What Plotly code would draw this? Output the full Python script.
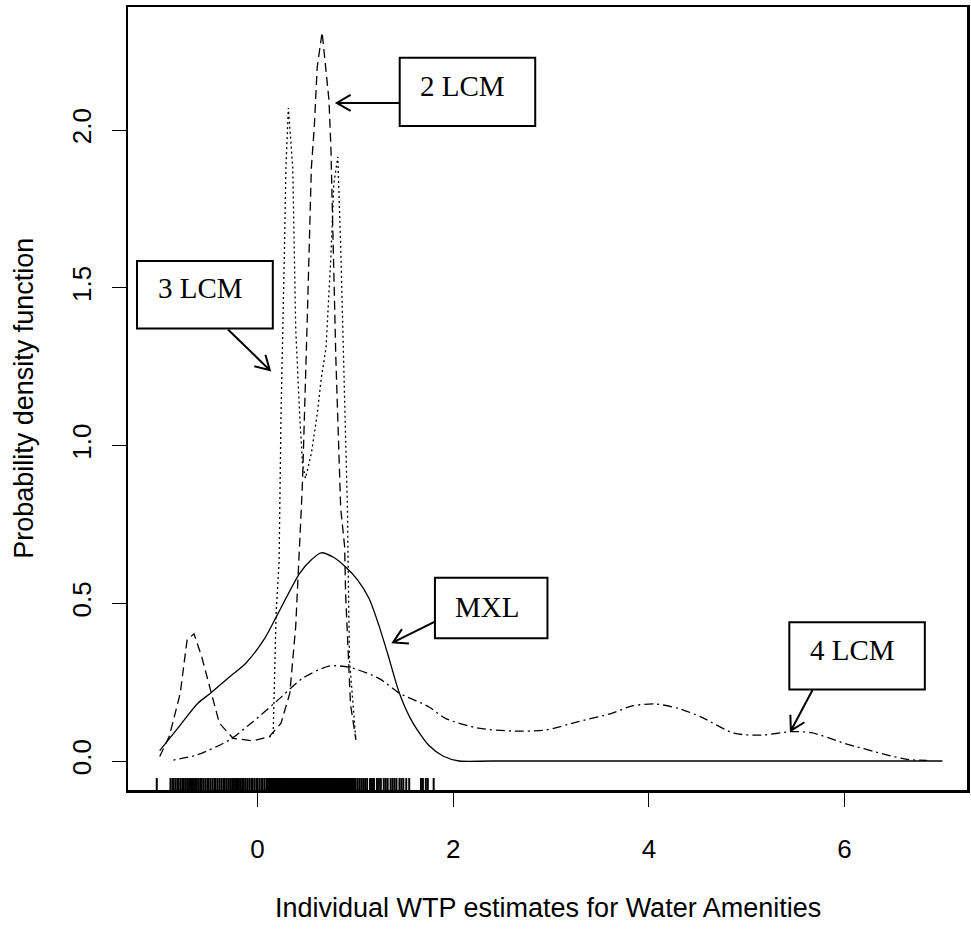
import math
import plotly.graph_objects as go

# ---------------- data ----------------
mxl_x = [-1.00, -0.80, -0.61, -0.48, -0.30, -0.12, 0.07, 0.21, 0.43, 0.55, 0.65, 0.78, 0.90,
         1.02, 1.14, 1.24, 1.33, 1.45, 1.58, 1.75, 1.90, 2.06, 2.40, 7.00]
mxl_y = [0.033, 0.110, 0.183, 0.215, 0.263, 0.310, 0.387, 0.468, 0.595, 0.638, 0.660, 0.645, 0.615,
         0.575, 0.515, 0.430, 0.340, 0.215, 0.125, 0.050, 0.015, 0.000, 0.000, 0.000]

lcm2_x = [-1.00, -0.90, -0.79, -0.72, -0.65, -0.57, -0.49, -0.39, -0.25, -0.05, 0.12, 0.24, 0.33,
          0.39, 0.445, 0.46, 0.51, 0.55, 0.58, 0.61, 0.66, 0.70, 0.73, 0.75, 0.77, 0.80, 0.85,
          0.89, 0.90, 0.95, 1.005]
lcm2_y = [0.014, 0.080, 0.215, 0.384, 0.403, 0.330, 0.236, 0.120, 0.072, 0.064, 0.077, 0.120, 0.215,
          0.426, 0.785, 0.890, 1.420, 1.880, 2.010, 2.200, 2.310, 2.180, 2.095, 1.940, 1.670, 1.280, 0.800,
          0.680, 0.530, 0.180, 0.067]

lcm3_x = [0.12, 0.16, 0.19, 0.22, 0.24, 0.26, 0.275, 0.29, 0.315, 0.36, 0.38, 0.39, 0.43, 0.46,
          0.49, 0.55, 0.61, 0.65, 0.70, 0.73, 0.75, 0.78, 0.82, 0.85, 0.89, 0.92, 0.925, 0.94, 1.005]
lcm3_y = [0.075, 0.088, 0.470, 0.630, 1.100, 1.470, 1.620, 1.880, 2.070, 1.880, 1.570, 1.370, 1.100, 0.940,
          0.896, 0.975, 1.100, 1.210, 1.310, 1.470, 1.600, 1.830, 1.915, 1.630, 1.155, 0.785, 0.637, 0.320, 0.067]

lcm4_x = [-0.86, -0.62, -0.285, -0.05, 0.19, 0.46, 0.73, 0.94, 1.24, 1.45, 1.75, 1.92, 2.26, 2.60,
          2.94, 3.28, 3.62, 3.82, 4.06, 4.30, 4.53, 4.87, 5.15, 5.45, 5.66, 6.00, 6.40, 6.64, 6.84]
lcm4_y = [0.003, 0.019, 0.067, 0.124, 0.188, 0.262, 0.301, 0.297, 0.262, 0.215, 0.172, 0.135, 0.104, 0.095,
          0.098, 0.125, 0.151, 0.174, 0.181, 0.167, 0.140, 0.088, 0.082, 0.093, 0.090, 0.056, 0.022, 0.005, 0.002]

rug_x = [-1.03,
         -0.89, -0.87, -0.86, -0.84, -0.82, -0.81, -0.79, -0.77, -0.76, -0.74, -0.72, -0.70, -0.69, -0.67,
         -0.65, -0.63, -0.62, -0.60, -0.58, -0.57, -0.55, -0.53, -0.51, -0.50, -0.48, -0.46, -0.44, -0.43,
         -0.41, -0.39, -0.37, -0.35, -0.34, -0.32, -0.30, -0.28, -0.26, -0.25, -0.23, -0.21, -0.19, -0.17,
         -0.15, -0.14, -0.12, -0.10, -0.08, -0.06, -0.05, -0.03, -0.01, 0.00, 0.02, 0.04, 0.05, 0.07,
         0.09, 0.10, 0.11, 0.12, 0.13, 0.14, 0.15, 0.16, 0.17, 0.18, 0.19, 0.20, 0.21, 0.22, 0.23, 0.24,
         0.25, 0.26, 0.27, 0.28, 0.29, 0.30, 0.31, 0.32, 0.33, 0.34, 0.35, 0.36, 0.37, 0.38, 0.39, 0.40,
         0.41, 0.42, 0.43, 0.44, 0.45, 0.46, 0.47, 0.48, 0.49, 0.50, 0.51, 0.52, 0.53, 0.54, 0.55, 0.56,
         0.57, 0.58, 0.59, 0.60, 0.61, 0.62, 0.63, 0.64, 0.65, 0.66, 0.67, 0.68, 0.69, 0.70, 0.71, 0.72,
         0.73, 0.74, 0.75, 0.76, 0.77, 0.78, 0.79, 0.80, 0.81, 0.82, 0.83, 0.84, 0.85, 0.86, 0.87, 0.88,
         0.89, 0.90, 0.91, 0.92, 0.93, 0.94, 0.95, 0.96, 0.97, 0.98, 0.99, 1.00,
         1.02, 1.04, 1.06, 1.08, 1.10, 1.12, 1.15, 1.17, 1.19, 1.22, 1.24, 1.26, 1.29, 1.31, 1.33, 1.36,
         1.38, 1.40, 1.42, 1.45, 1.47, 1.49, 1.52, 1.55,
         1.67, 1.69, 1.72, 1.74, 1.80]

x_ticks = [0, 2, 4, 6]
y_ticks = [0.0, 0.5, 1.0, 1.5, 2.0]
y_tick_text = ["0.0", "0.5", "1.0", "1.5", "2.0"]

# label boxes: text, box (x0, x1, y0, y1), text position, arrow tail, arrow head
labels = [
    ("2 LCM", (1.453, 2.838, 2.013, 2.229), (2.09, 2.14), (1.453, 2.086), (0.81, 2.086)),
    ("3 LCM", (-1.232, 0.156, 1.371, 1.585), (-0.586, 1.50), (-0.302, 1.368), (0.125, 1.239)),
    ("MXL", (1.813, 2.963, 0.389, 0.581), (2.35, 0.489), (1.813, 0.4415), (1.385, 0.376)),
    ("4 LCM", (5.435, 6.820, 0.227, 0.4396), (6.08, 0.352), (5.672, 0.225), (5.451, 0.096)),
]

# ---------------- layout constants ----------------
W, H = 971, 929
ML, MR, MT, MB = 128, 1, 7, 139
XR = [-1.324, 7.251]
YR = [-0.0919, 2.390]
SX = (W - ML - MR) / (XR[1] - XR[0])
SY = (H - MT - MB) / (YR[1] - YR[0])
RUG_Y0, RUG_Y1 = YR[0], -0.054

SANS = "Liberation Sans, Arial, sans-serif"
SERIF = "Liberation Serif, Times New Roman, serif"

fig = go.Figure()

def add_line(x, y, dash, shape="linear"):
    fig.add_trace(go.Scatter(x=x, y=y, mode="lines", showlegend=False, hoverinfo="skip",
                             line=dict(color="black", width=1.3, dash=dash, shape=shape,
                                       smoothing=0.7 if shape == "spline" else None)))

add_line(mxl_x, mxl_y, "solid", "spline")
add_line(lcm2_x, lcm2_y, "9px,5px")
add_line(lcm3_x, lcm3_y, "2px,3px")
add_line(lcm4_x, lcm4_y, "2px,4px,9px,4px", "spline")

rx, ry = [], []
for v in rug_x:
    rx += [v, v, None]
    ry += [RUG_Y0, RUG_Y1, None]
fig.add_trace(go.Scatter(x=rx, y=ry, mode="lines", showlegend=False, hoverinfo="skip",
                         line=dict(color="black", width=2)))

shapes = []
annotations = []
for text, (bx0, bx1, by0, by1), (tx, ty), (ax, ay), (hx, hy) in labels:
    shapes.append(dict(type="rect", xref="x", yref="y", x0=bx0, x1=bx1, y0=by0, y1=by1,
                       line=dict(color="black", width=2), fillcolor="white", layer="above"))
    annotations.append(dict(x=tx, y=ty, xref="x", yref="y", text=text, showarrow=False,
                            font=dict(family=SERIF, size=29, color="black"),
                            xanchor="center", yanchor="middle"))
    # arrow with open V head (computed in pixel space)
    ux, uy = (ax - hx) * SX, (ay - hy) * SY
    n = math.hypot(ux, uy)
    ux, uy = ux / n, uy / n
    L = 16
    pts = []
    for ang in (math.radians(30), math.radians(-30)):
        rx_ = ux * math.cos(ang) - uy * math.sin(ang)
        ry_ = ux * math.sin(ang) + uy * math.cos(ang)
        pts.append((hx + rx_ * L / SX, hy + ry_ * L / SY))
    path = (f"M {ax},{ay} L {hx},{hy} M {pts[0][0]},{pts[0][1]} L {hx},{hy} "
            f"L {pts[1][0]},{pts[1][1]}")
    shapes.append(dict(type="path", xref="x", yref="y", path=path,
                       line=dict(color="black", width=2), layer="above"))

annotations.append(dict(x=0.5, y=(MT + (H - MT - MB) - 908) / (H - MT - MB), xref="paper", yref="paper",
                        text="Individual WTP estimates for Water Amenities", showarrow=False,
                        font=dict(family=SANS, size=27, color="black"),
                        xanchor="center", yanchor="middle"))
annotations.append(dict(x=(23 - ML) / (W - ML - MR), y=0.5, xref="paper", yref="paper",
                        text="Probability density function", showarrow=False, textangle=-90,
                        font=dict(family=SANS, size=27, color="black"),
                        xanchor="center", yanchor="middle"))

axis_common = dict(showgrid=False, zeroline=False, showline=True, linecolor="black", linewidth=2.5,
                   mirror=True, ticks="outside", ticklen=14, tickwidth=1, tickcolor="black",
                   tickfont=dict(family=SANS, size=26, color="black"))

fig.update_layout(
    width=W, height=H,
    margin=dict(l=ML, r=MR, t=MT, b=MB, pad=0),
    paper_bgcolor="white", plot_bgcolor="white",
    xaxis=dict(range=XR, tickmode="array", tickvals=x_ticks, ticklabelstandoff=20, **axis_common),
    yaxis=dict(range=YR, tickmode="array", tickvals=y_ticks, ticktext=y_tick_text, tickangle=-90,
               ticklabelstandoff=10, **axis_common),
    shapes=shapes,
    annotations=annotations,
)

fig.write_html("out.html", config={"displayModeBar": False, "staticPlot": True},
               post_script="document.body.style.margin='0px';document.body.style.padding='0px';")
